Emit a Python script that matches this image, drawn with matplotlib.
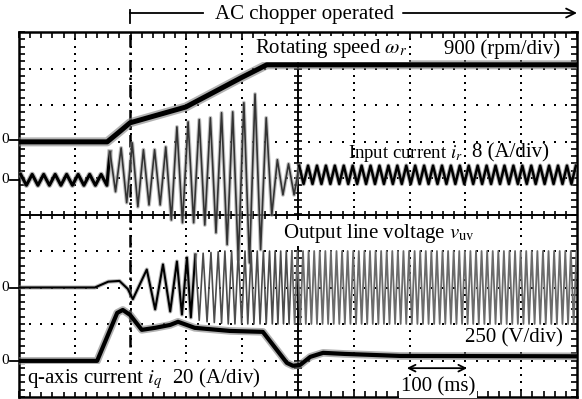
import numpy as np
import matplotlib
matplotlib.use('Agg')
import matplotlib.pyplot as plt
import matplotlib.transforms as mtransforms

plt.rcParams['font.family'] = ['Liberation Serif', 'DejaVu Serif']
plt.rcParams['mathtext.fontset'] = 'stix'

# ---- traces (time in ms, 100 ms/div) ----
# rotating speed, 900 rpm/div, zero on division 7
speed_t = [0, 158, 181, 199, 299, 398, 444, 1000]
speed_rpm = [0, 0, 260, 470, 860, 1580, 1900, 1900]

# input current, 8 A/div, zero on division 5.95
# ripple vertices: (start ms, half period ms, peak values)
ir_pre_start, ir_pre_half = 3, 10.3
ir_pre = [1.2, -1.2] * 8
ir_tr_start, ir_tr_half = 163, 10
ir_tr = [6.1, -2.6, 7.0, -5.0, 8.1, -5.9, 6.6, -5.5, 6.6, -5.5,
         7.2, -8.8, 11.6, -9.4, 12.7, -9.4, 13.2, -9.9, 13.6, -11.6,
         14.7, -14.2, 14.9, -17.5, 16.9, -18.2, 18.8, -15.3, 13.6, -7.7,
         4.4, -3.3, 3.5, -3.3]
ir_post_start, ir_post_half = 502, 8
ir_post = [3.1, -0.9] * 31 + [3.1]

# output line voltage, 250 V/div, zero on division 3
vuv_t_tr = [0, 136, 160, 180, 195, 204, 229, 244, 258, 271, 283, 292, 301,
            308, 316, 323, 330, 337, 344, 350, 357, 363, 369, 375, 381, 387,
            393, 399, 405, 410, 416, 421, 427, 432, 438, 443, 449, 454, 459,
            464, 469, 474, 479, 484, 489]
vuv_tr = [0, 0, 40, 45, -10, -80,
          123, -150, 158, -164, 178, -185, 205, -205, 225, -225,
          235, -235, 240, -240, 245, -245] + [250, -250] * 11 + [250]
vuv_half = 5          # steady state half period (ms)
vuv_ss = [-250, 250] * 51

# q-axis current, 20 A/div, zero on division 1
iq_t = [0, 140, 176, 186, 199, 220, 244, 271, 285, 315, 378, 437,
        480, 491, 504, 522, 545, 584, 683, 1000]
iq_A = [0, 0, 26.3, 27.9, 25.2, 17.0, 18.1, 19.7, 21.4, 18.1, 16.4, 15.9,
        -1.1, -2.7, -2.2, 2.2, 4.4, 3.8, 2.7, 2.5]

chopper_on = 199      # ms, dashed marker


def to_div(vals, per_div, zero):
    return zero + np.asarray(vals, dtype=float) / per_div


def vertex_times(start, half, vals):
    return start + half * np.arange(len(vals))


W, H = 582, 399
fig = plt.figure(figsize=(W / 100, H / 100), dpi=100)
ax = fig.add_axes([19 / W, 1 - 397 / H, 558 / W, 365 / H])
ax.set_xlim(0, 1000)
ax.set_ylim(0, 10)

# scope graticule
ax.set_xticks(np.arange(0, 1001, 100))
ax.set_xticks(np.arange(0, 1001, 20), minor=True)
ax.set_yticks(np.arange(0, 11, 1))
ax.set_yticks(np.arange(0, 10.01, 0.2), minor=True)
ax.tick_params(which='both', direction='in', top=True, right=True,
               labelbottom=False, labelleft=False, length=4, width=1.2)
for s in ax.spines.values():
    s.set_linewidth(1.8)

minor_x = np.arange(20, 1000, 20)
minor_y = np.arange(0.2, 10, 0.2)
for gx in range(100, 1000, 100):
    if gx == 500:
        continue
    ax.plot(np.full(len(minor_y), gx), minor_y, ls='none', marker='s',
            ms=1.5, mew=0, color='k', zorder=1)
for gy in range(1, 10):
    if gy == 5:
        continue
    ax.plot(minor_x, np.full(len(minor_x), gy), ls='none', marker='s',
            ms=1.5, mew=0, color='k', zorder=1)
ax.axvline(500, color='k', lw=1.4, zorder=1)
ax.axhline(5, color='k', lw=1.4, zorder=1)
ax.plot(np.full(len(minor_y), 500), minor_y, ls='none', marker='_',
        ms=6, mew=1.2, color='k', zorder=1)
ax.plot(minor_x, np.full(len(minor_x), 5), ls='none', marker='|',
        ms=6, mew=1.2, color='k', zorder=1)

ax.axvline(chopper_on, color='k', lw=1.8, ls=(0, (5, 2, 1, 2)), zorder=2)

# ---- traces ----
# input current: steady ripple before and after, large swing in between
t_pre = vertex_times(ir_pre_start, ir_pre_half, ir_pre)
t_tr = vertex_times(ir_tr_start, ir_tr_half, ir_tr)
t_post = vertex_times(ir_post_start, ir_post_half, ir_post)
t_a = np.r_[t_pre, t_tr[0]]
y_a = to_div(ir_pre + ir_tr[:1], 8, 5.95)
ax.plot(t_a, y_a, color='0.5', lw=3.8, alpha=0.6, zorder=3)
ax.plot(t_a, y_a, color='k', lw=2.2, zorder=3)
t_b = np.r_[t_tr, t_post[0]]
y_b = to_div(ir_tr + ir_post[:1], 8, 5.95)
ax.plot(t_b, y_b, color='0.6', lw=2.8, alpha=0.6, zorder=3)
ax.plot(t_b, y_b, color='0.2', lw=1.2, zorder=3)
y_c = to_div(ir_post, 8, 5.95)
ax.plot(t_post, y_c, color='0.5', lw=3.2, alpha=0.6, zorder=3)
ax.plot(t_post, y_c, color='k', lw=1.8, zorder=3)

# output line voltage
n_dark = 15
ax.plot(vuv_t_tr[:n_dark], to_div(vuv_tr[:n_dark], 250, 3), color='0.55', lw=3,
        alpha=0.6, zorder=3)
ax.plot(vuv_t_tr[:n_dark], to_div(vuv_tr[:n_dark], 250, 3), color='k', lw=1.5, zorder=3)
ax.plot(vuv_t_tr[n_dark - 1:], to_div(vuv_tr[n_dark - 1:], 250, 3), color='0.3',
        lw=1.2, zorder=3)
vuv_t_ss = vuv_t_tr[-1] + vuv_half * np.arange(1, len(vuv_ss) + 1)
ax.plot(np.r_[vuv_t_tr[-1], vuv_t_ss], to_div([vuv_tr[-1]] + vuv_ss, 250, 3),
        color='0.42', lw=1.3, zorder=3)

ax.plot(speed_t, to_div(speed_rpm, 900, 6.99), color='0.5', lw=6.5, alpha=0.6,
        solid_capstyle='butt', zorder=4)
ax.plot(speed_t, to_div(speed_rpm, 900, 6.99), color='k', lw=3.6,
        solid_capstyle='butt', zorder=4)
ax.plot(iq_t, to_div(iq_A, 20, 0.99), color='0.5', lw=5.5, alpha=0.6,
        solid_capstyle='butt', zorder=4)
ax.plot(iq_t, to_div(iq_A, 20, 0.99), color='k', lw=3.0,
        solid_capstyle='butt', zorder=4)

# ---- labels ----
wbox = dict(facecolor='white', edgecolor='none', pad=1)
ax.text(423, 9.42, r'Rotating speed $\omega_r$', fontsize=15, zorder=6, bbox=wbox)
ax.text(969, 9.40, '900 (rpm/div)', fontsize=15, ha='right', zorder=6, bbox=wbox)
ax.text(590, 6.55, r'Input current $i_r$', fontsize=13.5, zorder=6)
ax.text(812, 6.55, '8 (A/div)', fontsize=15, zorder=6)
ax.text(473, 4.36, r'Output line voltage $v_{\rm uv}$', fontsize=15, zorder=6, bbox=wbox)
ax.text(975, 1.48, '250 (V/div)', fontsize=15, ha='right', zorder=6, bbox=wbox)
ax.text(14, 0.38, r'q-axis current $i_q$  20 (A/div)', fontsize=15, zorder=6, bbox=wbox)
ax.text(751, 0.14, '100 (ms)', fontsize=15, ha='center', zorder=6, bbox=wbox)
ax.annotate('', xy=(695, 0.79), xytext=(803, 0.79),
            arrowprops=dict(arrowstyle='<->', lw=1.3, color='k',
                            shrinkA=0, shrinkB=0, mutation_scale=12), zorder=6)

# zero markers on the left edge
ytr = ax.get_yaxis_transform()
left_tr = mtransforms.blended_transform_factory(fig.transFigure, ax.transData)
for z in [7.05, 5.95, 2.99, 0.99]:
    ax.plot([-9 / 558, 0], [z, z], color='k', lw=1.3, transform=ytr, clip_on=False)
    fig.text(1 / W, z, '0', fontsize=11, ha='left', va='center', transform=left_tr)

# "AC chopper operated" bracket above the frame
top = 1 - 13 / H
bt = mtransforms.blended_transform_factory(ax.transData, fig.transFigure)
ax.plot([chopper_on, chopper_on], [1 - 10 / H, 1 - 23 / H], color='k', lw=1.3,
        transform=bt, clip_on=False)
ax.plot([chopper_on, 330], [top, top], color='k', lw=1.3, transform=bt, clip_on=False)
ax.text(511, 1 - 19 / H, 'AC chopper operated', fontsize=15, ha='center',
        va='baseline', transform=bt)
ax.annotate('', xy=(1000, top), xytext=(688, top), xycoords=bt, textcoords=bt,
            arrowprops=dict(arrowstyle='->', lw=1.3, color='k', shrinkA=0,
                            shrinkB=0, mutation_scale=16), annotation_clip=False)

fig.savefig('out.png', dpi=100)
